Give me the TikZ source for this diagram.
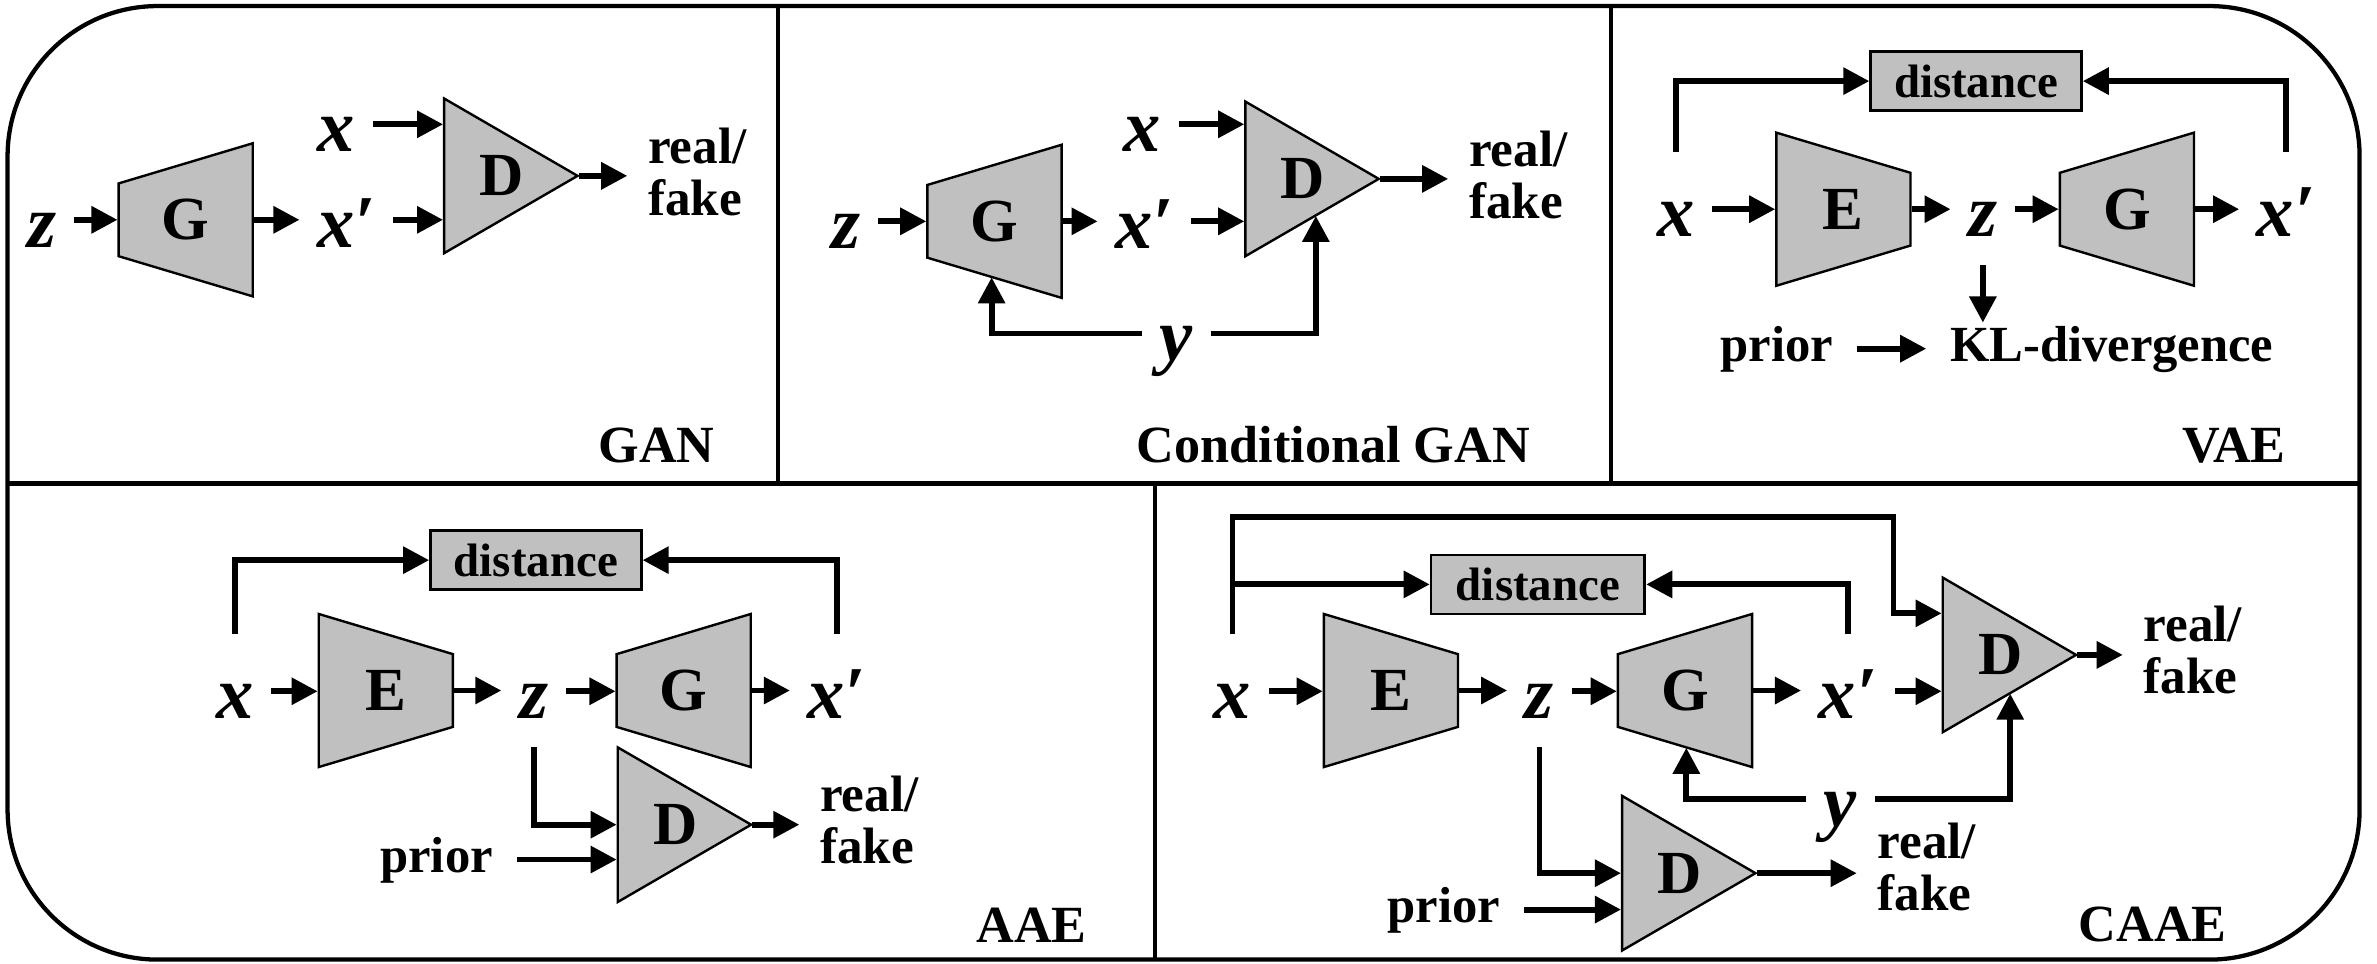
\documentclass[tikz,border=0pt]{standalone}
\usepackage{fontspec}
\setmainfont{Liberation Serif}
\usetikzlibrary{arrows.meta,calc}
\definecolor{blockgray}{RGB}{192,192,192}

% generator: short side left, long side right
\newcommand{\gennet}[3]{%
  \draw[blockline] (#2) ++(-0.4425,0.24) -- ++(0.885,0.265) -- ++(0,-1.01) -- ++(-0.885,0.265) coordinate (#1-bl) -- cycle;
  \node[blocktext] (#1) at (#2) {#3};}
% encoder: long side left, short side right
\newcommand{\encnet}[3]{%
  \draw[blockline] (#2) ++(-0.4425,0.505) -- ++(0.885,-0.265) -- ++(0,-0.48) -- ++(-0.885,-0.265) -- cycle;
  \node[blocktext] (#1) at (#2) {#3};}
% discriminator: triangle pointing right
\newcommand{\discnet}[3]{%
  \draw[blockline] (#2) ++(-0.44,0.51) -- ++(0.88,-0.51) -- ++(-0.88,-0.51) -- cycle;
  \node[disctext] (#1) at (#2) {#3\hspace*{0.12cm}};}

\begin{document}
\begin{tikzpicture}[x=1cm,y=1cm,
  frame/.style={line width=0.8pt},
  blockline/.style={draw=black, fill=blockgray, line width=0.45pt},
  blocktext/.style={minimum width=0.885cm, minimum height=1.01cm, inner sep=0pt, font=\bfseries\fontsize{11.5}{11.5}\selectfont},
  disctext/.style={minimum width=0.88cm, minimum height=1.02cm, inner sep=0pt, font=\bfseries\fontsize{11.5}{11.5}\selectfont},
  var/.style={font=\bfseries\itshape\fontsize{14}{14}\selectfont, inner xsep=0.11cm, inner ysep=0pt, text height=0.36cm, text depth=0pt},
  word/.style={font=\bfseries\fontsize{9.5}{9.5}\selectfont, inner xsep=0.15cm, inner ysep=0pt, text height=0.25cm, text depth=0.08cm},
  rf/.style={font=\bfseries\fontsize{9.6}{9.7}\selectfont, align=left, inner xsep=0.13cm, inner ysep=0pt},
  dist/.style={draw, fill=blockgray, line width=0.5pt, minimum width=1.39cm, minimum height=0.39cm, inner sep=0pt, font=\bfseries\fontsize{8.8}{8.8}\selectfont},
  title/.style={font=\bfseries\fontsize{9.8}{9.8}\selectfont, anchor=base, inner sep=0pt},
  arr/.style={line width=1.1pt, -{Triangle[length=4.9pt,width=4.9pt]}}]

\useasboundingbox (0,0) rectangle (15.68,-6.3525);

% frame and panels
\draw[frame, rounded corners=0.99cm] (0.05,-0.04) rectangle (15.565,-6.33);
\draw[frame] (0.05,-3.19) -- (15.565,-3.19);
\draw[frame] (5.13,-0.04) -- (5.13,-3.19);
\draw[frame] (10.625,-0.04) -- (10.625,-3.19);
\draw[frame] (7.62,-3.19) -- (7.62,-6.33);

% GAN
\node[var] (z1) at (0.275,-1.45) {z};
\gennet{G1}{1.225,-1.45}{G}
\node[var] (xp1) at (2.285,-1.45) {x′};
\node[var] (x1) at (2.22,-0.82) {x};
\discnet{D1}{3.37,-1.16}{D}
\node[rf] (rf1) at (4.60,-1.135) {real/\\fake};
\node[title] (t1) at (4.33,-3.05) {GAN};
\draw[arr] (z1.east) -- (z1.east -| G1.west);
\draw[arr] (G1.east) -- (G1.east -| xp1.west);
\draw[arr] (x1.east) -- (x1.east -| D1.west);
\draw[arr] (xp1.east) -- (xp1.east -| D1.west);
\draw[arr] (D1.east) -- (D1.east -| rf1.west);

% Conditional GAN
\node[var] (z2) at (5.58,-1.46) {z};
\gennet{G2}{6.56,-1.46}{G}
\node[var] (xp2) at (7.55,-1.46) {x′};
\node[var] (x2) at (7.535,-0.82) {x};
\discnet{D2}{8.655,-1.18}{D}
\node[rf] (rf2) at (10.015,-1.155) {real/\\fake};
\node[var] (y2) at (7.76,-2.20) {y};
\node[title] (t2) at (8.795,-3.05) {Conditional GAN};
\draw[arr] (z2.east) -- (z2.east -| G2.west);
\draw[arr] (G2.east) -- (G2.east -| xp2.west);
\draw[arr] (x2.east) -- (x2.east -| D2.west);
\draw[arr] (xp2.east) -- (xp2.east -| D2.west);
\draw[arr] (D2.east) -- (D2.east -| rf2.west);
\draw[arr] (y2.west) -| ($(G2-bl)!0.475!(G2.south east)$);
\draw[arr] (y2.east) -| ($(D2.south west)!0.528!(D2.east)$);

% VAE
\node[dist] (dist3) at (13.035,-0.535) {distance};
\node[var] (x3) at (11.055,-1.38) {x};
\encnet{E3}{12.16,-1.38}{E}
\node[var] (z3) at (13.08,-1.38) {z};
\gennet{G3}{14.03,-1.38}{G}
\node[var] (xp3) at (15.08,-1.38) {x′};
\node[word] (prior3) at (11.72,-2.30) {prior};
\node[word] (kl3) at (13.93,-2.30) {KL-divergence};
\node[title] (t3) at (14.735,-3.05) {VAE};
\draw[arr] (x3.east) -- (x3.east -| E3.west);
\draw[arr] (E3.east) -- (E3.east -| z3.west);
\draw[arr] (z3.east) -- (z3.east -| G3.west);
\draw[arr] (G3.east) -- (G3.east -| xp3.west);
\draw[arr] ([yshift=0.19cm]x3.north) |- (dist3.west);
\draw[arr] ([yshift=0.19cm]xp3.north) |- (dist3.east);
\draw[arr] ([yshift=-0.18cm]z3.south) -- (z3.south |- kl3.north);
\draw[arr] (prior3.east) -- (kl3.west);

% AAE
\node[dist] (dist4) at (3.535,-3.695) {distance};
\node[var] (x4) at (1.55,-4.56) {x};
\encnet{E4}{2.545,-4.555}{E}
\node[var] (z4) at (3.52,-4.56) {z};
\gennet{G4}{4.51,-4.555}{G}
\node[var] (xp4) at (5.52,-4.56) {x′};
\discnet{D4}{4.515,-5.44}{D}
\node[word] (prior4) at (2.88,-5.67) {prior};
\node[rf] (rf4) at (5.735,-5.41) {real/\\fake};
\node[title] (t4) at (6.805,-6.22) {AAE};
\draw[arr] (x4.east) -- (x4.east -| E4.west);
\draw[arr] (E4.east) -- (E4.east -| z4.west);
\draw[arr] (z4.east) -- (z4.east -| G4.west);
\draw[arr] (G4.east) -- (G4.east -| xp4.west);
\draw[arr] ([yshift=0.19cm]x4.north) |- (dist4.west);
\draw[arr] ([yshift=0.19cm]xp4.north) |- (dist4.east);
\draw[arr] ([yshift=-0.18cm]z4.south) |- (D4.west);
\draw[arr] (prior4.east) -- (prior4.east -| D4.west);
\draw[arr] (D4.east) -- (D4.east -| rf4.west);

% CAAE
\node[dist, minimum width=1.41cm] (dist5) at (10.145,-3.855) {distance};
\node[var] (x5) at (8.13,-4.56) {x};
\encnet{E5}{9.175,-4.555}{E}
\node[var] (z5) at (10.155,-4.56) {z};
\gennet{G5}{11.115,-4.555}{G}
\node[var] (xp5) at (12.19,-4.56) {x′};
\discnet{D5}{13.255,-4.32}{D}
\node[rf] (rf5) at (14.465,-4.29) {real/\\fake};
\node[var] (y5) at (12.14,-5.27) {y};
\discnet{D6}{11.14,-5.76}{D}
\node[word] (prior6) at (9.525,-6.00) {prior};
\node[rf] (rf6) at (12.71,-5.72) {real/\\fake};
\node[title] (t5) at (14.20,-6.21) {CAAE};
\coordinate (c5) at (12.49,-3.41);
\draw[arr] (x5.east) -- (x5.east -| E5.west);
\draw[arr] (E5.east) -- (E5.east -| z5.west);
\draw[arr] (z5.east) -- (z5.east -| G5.west);
\draw[arr] (G5.east) -- (G5.east -| xp5.west);
\draw[arr] (xp5.east) -- (xp5.east -| D5.west);
\draw[arr] (D5.east) -- (D5.east -| rf5.west);
\draw[arr] ([yshift=0.19cm]x5.north) |- (dist5.west);
\draw[arr] ([yshift=0.19cm]x5.north) |- (c5) |- ($(D5.north west)!0.235!(D5.south west)$);
\draw[arr] ([yshift=0.19cm]xp5.north) |- (dist5.east);
\draw[arr] (y5.west) -| ($(G5-bl)!0.506!(G5.south east)$);
\draw[arr] (y5.east) -| ($(D5.south west)!0.506!(D5.east)$);
\draw[arr] ([yshift=-0.18cm]z5.south) |- (D6.west);
\draw[arr] (prior6.east) -- (prior6.east -| D6.west);
\draw[arr] (D6.east) -- (D6.east -| rf6.west);
\end{tikzpicture}
\end{document}
